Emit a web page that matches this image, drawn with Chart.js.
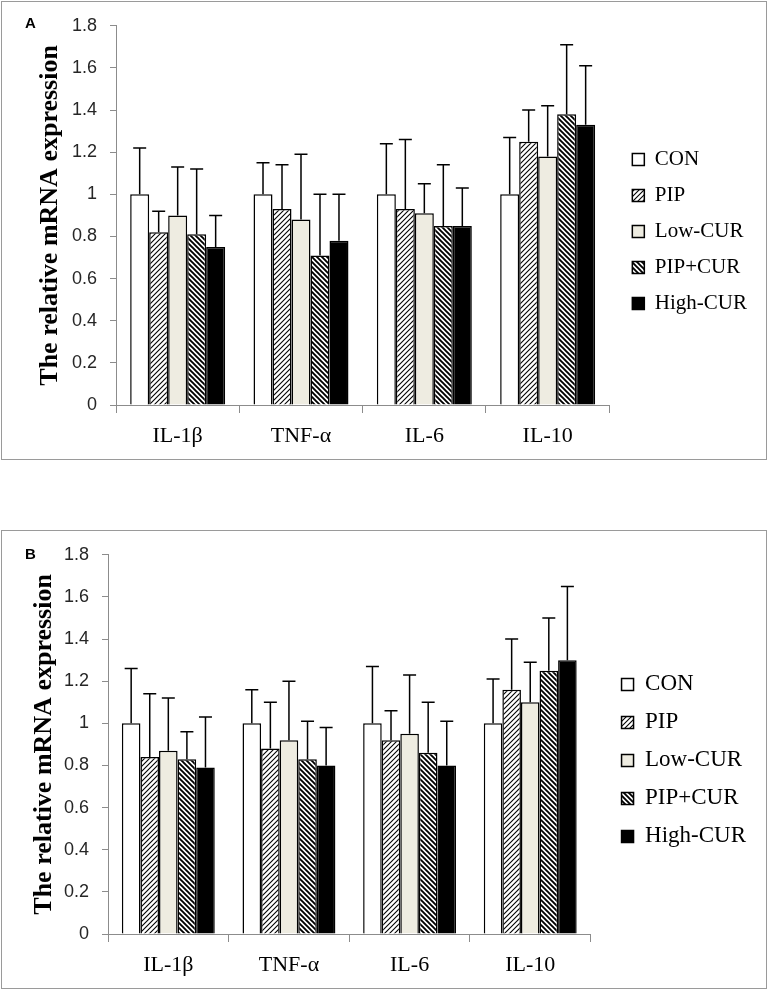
<!DOCTYPE html>
<html>
<head>
<meta charset="utf-8">
<script src="https://cdn.jsdelivr.net/npm/chart.js@4.4.1/dist/chart.umd.min.js"></script>
<style>
  body { margin: 0; background: #fff; width: 767px; height: 991px; position: relative; overflow: hidden; }
  .panel { position: absolute; left: 1px; width: 764px; height: 457px; border: 1px solid #9a9a9a; }
  .panel canvas { position: absolute; left: 0; top: 0; }
  .tag { position: absolute; left: 23px; font: bold 15px "Liberation Sans", Arial, sans-serif; line-height: 15px; }
</style>
</head>
<body>
<div class="panel" style="top:1px">
  <canvas id="chartA" width="764" height="457"></canvas>
  <div class="tag" style="top:13px">A</div>
</div>
<div class="panel" style="top:530px">
  <canvas id="chartB" width="764" height="457"></canvas>
  <div class="tag" style="top:15px">B</div>
</div>
<script>
// categorias y grupos
const cytokines = ["IL-1β", "TNF-α", "IL-6", "IL-10"];
const groups = ["CON", "PIP", "Low-CUR", "PIP+CUR", "High-CUR"];
const yTicks = [0, 0.2, 0.4, 0.6, 0.8, 1, 1.2, 1.4, 1.6, 1.8];

// panel A: medias
const aCon = [1.00, 1.00, 1.00, 1.00];
const aPip = [0.82, 0.93, 0.93, 1.25];
const aLow = [0.90, 0.88, 0.91, 1.18];
const aPipCur = [0.81, 0.71, 0.85, 1.38];
const aHigh = [0.75, 0.78, 0.85, 1.33];
// panel A: desviaciones (barra de error hacia arriba)
const aConSd = [0.22, 0.15, 0.24, 0.27];
const aPipSd = [0.10, 0.21, 0.33, 0.15];
const aLowSd = [0.23, 0.31, 0.14, 0.24];
const aPipCurSd = [0.31, 0.29, 0.29, 0.33];
const aHighSd = [0.15, 0.22, 0.18, 0.28];

// panel B: medias
const bCon = [1.00, 1.00, 1.00, 1.00];
const bPip = [0.84, 0.88, 0.92, 1.16];
const bLow = [0.87, 0.92, 0.95, 1.10];
const bPipCur = [0.83, 0.83, 0.86, 1.25];
const bHigh = [0.79, 0.80, 0.80, 1.30];
// panel B: desviaciones
const bConSd = [0.26, 0.16, 0.27, 0.21];
const bPipSd = [0.30, 0.22, 0.14, 0.24];
const bLowSd = [0.25, 0.28, 0.28, 0.19];
const bPipCurSd = [0.13, 0.18, 0.24, 0.25];
const bHighSd = [0.24, 0.18, 0.21, 0.35];

// rayado diagonal para las barras
const hatch = (dir, size, lw) => {
  const c = document.createElement("canvas");
  c.width = size;
  c.height = size;
  const g = c.getContext("2d");
  g.fillStyle = "#fff";
  g.fillRect(0, 0, size, size);
  g.strokeStyle = "#000";
  g.lineWidth = lw;
  g.beginPath();
  if (dir === "/") {
    g.moveTo(-1, 1); g.lineTo(1, -1);
    g.moveTo(0, size); g.lineTo(size, 0);
    g.moveTo(size - 1, size + 1); g.lineTo(size + 1, size - 1);
  } else {
    g.moveTo(-1, size - 1); g.lineTo(1, size + 1);
    g.moveTo(0, 0); g.lineTo(size, size);
    g.moveTo(size - 1, -1); g.lineTo(size + 1, 1);
  }
  g.stroke();
  return g.createPattern(c, "repeat");
};

const fills = ["#ffffff", hatch("/", 5, 1.1), "#EEECE1", hatch("\\", 5, 1.9), "#000000"];

// barras de error solo hacia arriba
const errorBars = {
  id: "errorBars",
  afterDatasetsDraw(chart) {
    const ctx = chart.ctx;
    const y = chart.scales.y;
    ctx.save();
    ctx.strokeStyle = "#000";
    ctx.lineWidth = 1.5;
    chart.data.datasets.forEach((ds, i) => {
      chart.getDatasetMeta(i).data.forEach((bar, j) => {
        const top = y.getPixelForValue(ds.data[j] + ds.sd[j]);
        ctx.beginPath();
        ctx.moveTo(bar.x, bar.y);
        ctx.lineTo(bar.x, top);
        ctx.moveTo(bar.x - 6.5, top);
        ctx.lineTo(bar.x + 6.5, top);
        ctx.stroke();
      });
    });
    ctx.restore();
  },
};

// mover la leyenda un poco
const legendNudge = {
  id: "legendNudge",
  afterUpdate(chart, args, opts) {
    const lg = chart.legend;
    lg.left += opts.dx; lg.right += opts.dx;
    lg.top += opts.dy; lg.bottom += opts.dy;
  },
};

const crearPanel = (id, series, sds, cfg) => {
  const ctx = document.getElementById(id).getContext("2d");
  new Chart(ctx, {
    type: "bar",
    data: {
      labels: cytokines,
      datasets: groups.map((g, i) => ({
        label: g,
        data: series[i],
        sd: sds[i],
        backgroundColor: fills[i],
        borderColor: "#000",
        borderWidth: 1.5,
        categoryPercentage: 0.77,
        barPercentage: 1.0,
      })),
    },
    options: {
      responsive: false,
      animation: false,
      devicePixelRatio: 1,
      layout: { padding: { left: cfg.padLeft, top: 23, right: cfg.padRight, bottom: 0 } },
      plugins: {
        tooltip: { enabled: false },
        legend: {
          position: "right",
          fullSize: false,
          labels: {
            boxWidth: 12,
            boxHeight: 12,
            padding: 15,
            color: "#000",
            font: { family: "Liberation Serif", size: cfg.legendSize },
          },
        },
        legendNudge: { dx: cfg.dx, dy: cfg.dy },
      },
      scales: {
        x: {
          afterFit: (axis) => { axis.height = 54; },
          grid: { drawOnChartArea: false, tickLength: 8, color: "#8c8c8c" },
          border: { color: "#8c8c8c" },
          ticks: { color: "#000", padding: 10, font: { family: "Liberation Serif", size: 22 } },
        },
        y: {
          min: 0,
          max: 1.8,
          afterFit: (axis) => { axis.width = 106; },
          afterBuildTicks: (axis) => { axis.ticks = yTicks.map((v) => ({ value: v })); },
          grid: { drawOnChartArea: false, tickLength: 6, color: "#8c8c8c" },
          border: { color: "#8c8c8c" },
          ticks: {
            color: "#262626",
            padding: 13,
            font: { family: "Liberation Sans", size: 18 },
            callback: (v) => String(v),
          },
          title: {
            display: true,
            text: "The relative mRNA expression",
            color: "#000",
            padding: { top: cfg.titlePad, bottom: 0 },
            font: { family: "Liberation Serif", size: 26, weight: "bold" },
          },
        },
      },
    },
    plugins: [errorBars, legendNudge],
  });
};

crearPanel("chartA",
  [aCon, aPip, aLow, aPipCur, aHigh],
  [aConSd, aPipSd, aLowSd, aPipCurSd, aHighSd],
  { padLeft: 8, padRight: 17, legendSize: 21, dx: 8, dy: 16, titlePad: 25 });

crearPanel("chartB",
  [bCon, bPip, bLow, bPipCur, bHigh],
  [bConSd, bPipSd, bLowSd, bPipCurSd, bHighSd],
  { padLeft: 0, padRight: 26, legendSize: 23, dx: 16, dy: 16, titlePad: 27 });
</script>
</body>
</html>
